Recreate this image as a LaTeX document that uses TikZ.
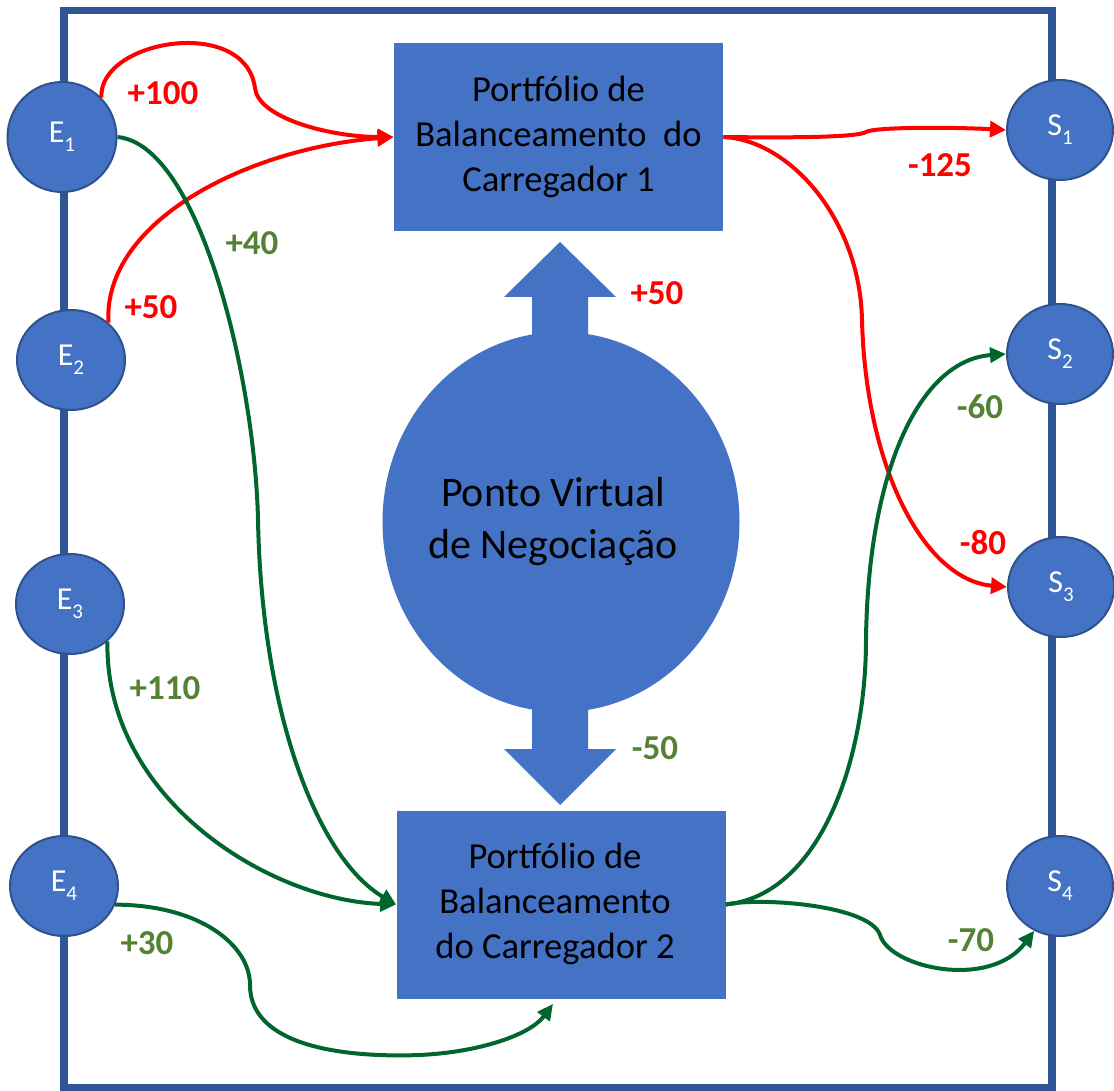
\documentclass[tikz,border=0pt]{standalone}
\usepackage{fontspec}
\setmainfont{Carlito}
\usetikzlibrary{shapes.geometric,arrows.meta,calc}
\definecolor{nodeblue}{HTML}{4472C4}
\definecolor{frameblue}{HTML}{2F5597}
\definecolor{edgeblue}{HTML}{2F528F}
\definecolor{flowgreen}{RGB}{0,102,46}
\definecolor{lblgreen}{HTML}{548235}
\newcommand{\nodeidx}[2]{#1\raisebox{-4.5pt}{\fontsize{10.5}{12}\selectfont #2}}
\tikzset{
  ptnode/.style={ellipse, fill=nodeblue, draw=edgeblue, line width=1pt, inner sep=0pt,
    minimum width=54pt, minimum height=50pt, text=white, font=\fontsize{16}{18}\selectfont},
  portfolio/.style={rectangle, fill=nodeblue, inner sep=0pt, minimum width=164.5pt,
    minimum height=94pt, align=center, font=\fontsize{18.3}{22.5}\selectfont},
  redflow/.style={draw=red, line width=2pt, -{Triangle[length=8pt,width=8pt]}},
  greenflow/.style={draw=flowgreen, line width=2pt, -{Triangle[length=8pt,width=7.5pt]}},
  redlbl/.style={text=red, font=\bfseries\fontsize{17.5}{20}\selectfont},
  greenlbl/.style={text=lblgreen, font=\bfseries\fontsize{17.5}{20}\selectfont}
}
\begin{document}
\begin{tikzpicture}[x=0.5pt, y=-0.5pt]
        \useasboundingbox (0,0) rectangle (1114,1091);
        \draw[frameblue, line width=3.75pt] (64,10.5) rectangle (1052,1088);
        % entradas e saidas
        \node[ptnode, minimum width=54.5pt, minimum height=55pt] (E1) at (62,137) {\nodeidx{E}{1}};
        \node[ptnode] (E2) at (71,360) {\nodeidx{E}{2}};
        \node[ptnode] (E3) at (70,604) {\nodeidx{E}{3}};
        \node[ptnode] (E4) at (64,886) {\nodeidx{E}{4}};
        \node[ptnode, minimum width=53pt] (S1) at (1060,130) {\nodeidx{S}{1}};
        \node[ptnode, minimum width=53pt] (S2) at (1060,354) {\nodeidx{S}{2}};
        \node[ptnode, minimum width=53pt] (S3) at (1061,587) {\nodeidx{S}{3}};
        \node[ptnode, minimum width=53pt] (S4) at (1060,886) {\nodeidx{S}{4}};
        \node[portfolio] (B1) at (558.5,137) {Portfólio de\\Balanceamento\ \ do\\Carregador 1};
        \node[portfolio, align=left] (B2) at (561,904.5) {\kern-6pt\begin{tabular}{@{}c@{}}Portfólio de\\Balanceamento\\do Carregador 2\end{tabular}};
        \node[ellipse, fill=nodeblue, inner sep=0pt, minimum width=178.5pt, minimum height=190pt,
          font=\fontsize{21}{26}\selectfont] (PVN) at (561,522) {\kern-8pt\begin{tabular}{@{}c@{}}Ponto Virtual\\de Negociação\end{tabular}};
        \fill[nodeblue] (532,345) -- (532,297) -- (504,297) -- (560,242) -- (616,297) -- (588,297) -- (588,345) -- cycle;
        \fill[nodeblue] (532,700) -- (532,749) -- (504,749) -- (560,805) -- (616,749) -- (588,749) -- (588,700) -- cycle;
        % fluxos do carregador 1
        \draw[redflow] (E1.45) .. controls (98,40) and (245,15) .. (255,88) .. controls (258,118) and (330,137) .. (B1.west);
        \draw[redflow] (E2.45) .. controls (103,220) and (250,148) .. (B1.west);
        \draw[redflow] (B1.east) .. controls (800,138) and (858,137) .. (866,132) .. controls (874,127) and (950,127) .. (S1.west);
        \draw[redflow] (B1.east) .. controls (790,140) and (860,220) .. (862,320) .. controls (866,470) and (925,580) .. (S3.west);
        % fluxos do carregador 2
        \draw[greenflow] (E1.east) .. controls (200,145) and (255,380) .. (258,520) .. controls (262,720) and (320,860) .. (B2.west);
        \draw[greenflow] (E3.315) .. controls (105,800) and (270,900) .. (B2.west);
        \draw[greenflow] (E4.340) .. controls (200,905) and (250,945) .. (250,985) .. controls (250,1045) and (340,1058) .. (420,1055) .. controls (480,1052) and (530,1035) .. ($(B2.south)+(-8,5)$);
        \draw[greenflow] (B2.east) .. controls (820,895) and (866,760) .. (866,640) .. controls (868,470) and (920,360) .. (S2.west);
        \draw[greenflow] (B2.east) .. controls (760,897) and (870,905) .. (880,935) .. controls (890,968) and (990,990) .. (S4.240);
        % valores
        \node[redlbl] (l100) at (163,93) {+100};
        \node[redlbl] (l50e) at (151,307) {+50};
        \node[greenlbl] (l40) at (252,243) {+40};
        \node[greenlbl] (l110) at (165,688) {+110};
        \node[greenlbl] (l30) at (147,943) {+30};
        \node[redlbl] (l125) at (940,165) {-125};
        \node[greenlbl] (l60) at (980,407) {-60};
        \node[redlbl] (l80) at (983,543) {-80};
        \node[greenlbl] (l70) at (971,940) {-70};
        \node[redlbl] (l50c) at (657,293) {+50};
        \node[greenlbl] (l50v) at (655,748) {-50};
\end{tikzpicture}
\end{document}
